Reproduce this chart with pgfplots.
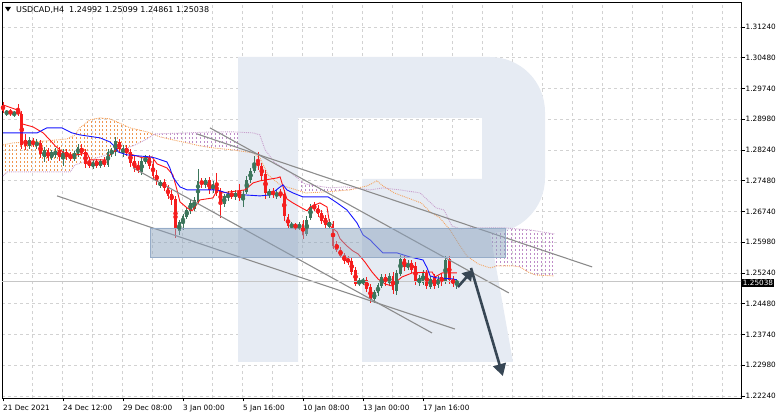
\documentclass[border=0pt]{standalone}
\usepackage{pgfplots}
\pgfplotsset{compat=1.18}
\usepackage{pgfplotstable}
\usepgfplotslibrary{fillbetween}
\usetikzlibrary{patterns,arrows.meta}
\usepackage{fontspec}
\setmainfont{DejaVu Sans}

\definecolor{bullc}{RGB}{60,118,92}
\definecolor{bearc}{RGB}{245,30,30}
\definecolor{tenkan}{RGB}{255,20,20}
\definecolor{kijun}{RGB}{20,20,255}
\definecolor{spanA}{RGB}{244,164,96}
\definecolor{spanB}{RGB}{200,160,205}
\definecolor{hatchA}{RGB}{240,150,80}
\definecolor{hatchB}{RGB}{190,140,200}
\definecolor{gridc}{RGB}{210,210,210}
\definecolor{trendc}{RGB}{140,140,140}
\definecolor{arrowc}{RGB}{55,70,84}
\definecolor{logoc}{RGB}{230,235,243}
\definecolor{zonec}{RGB}{140,163,190}
\definecolor{zoneb}{RGB}{150,172,200}

\pgfdeclarepatternformonly{vdash}{\pgfqpoint{-0.6pt}{-0.6pt}}{\pgfqpoint{4.35pt}{4.6pt}}{\pgfqpoint{3.75pt}{4pt}}{%
  \pgfsetlinewidth{1pt}%
  \pgfpathmoveto{\pgfqpoint{1.5pt}{0pt}}%
  \pgfpathlineto{\pgfqpoint{1.5pt}{2.2pt}}%
  \pgfusepath{stroke}}

\pgfplotstableread{
i o h l c
1 1.29120 1.29218 1.29072 1.29194
3 1.29096 1.29194 1.29047 1.29169
7 1.28340 1.28559 1.28266 1.28486
9 1.28340 1.28510 1.28266 1.28437
11 1.28071 1.28315 1.27949 1.28242
13 1.28047 1.28242 1.27998 1.28193
14 1.28120 1.28291 1.28047 1.28218
16 1.28047 1.28266 1.27852 1.28193
19 1.28022 1.28218 1.27974 1.28169
20 1.28120 1.28388 1.28071 1.28315
24 1.27827 1.27998 1.27778 1.27949
26 1.27852 1.28022 1.27803 1.27974
28 1.27876 1.28266 1.27827 1.28193
29 1.28144 1.28291 1.28071 1.28242
30 1.28193 1.28559 1.28096 1.28462
32 1.28144 1.28364 1.28071 1.28291
37 1.27705 1.28047 1.27632 1.27974
38 1.27949 1.28120 1.27900 1.28047
42 1.27364 1.27510 1.27315 1.27461
47 1.26266 1.26534 1.26168 1.26485
48 1.26436 1.26680 1.26290 1.26632
49 1.26607 1.26851 1.26558 1.26778
50 1.26754 1.27046 1.26680 1.26949
51 1.26802 1.27095 1.26754 1.27022
52 1.26973 1.27778 1.26924 1.27486
54 1.27388 1.27559 1.27315 1.27510
56 1.27266 1.27486 1.27193 1.27412
59 1.26924 1.27168 1.26851 1.27120
60 1.27071 1.27242 1.26998 1.27168
62 1.27095 1.27266 1.27022 1.27193
64 1.27071 1.27266 1.26851 1.27168
65 1.27217 1.27608 1.27168 1.27510
66 1.27510 1.27803 1.27437 1.27730
67 1.27730 1.28096 1.27681 1.27925
71 1.27144 1.27290 1.27071 1.27242
73 1.27120 1.27266 1.27046 1.27193
77 1.26363 1.26485 1.26314 1.26412
79 1.26339 1.26485 1.26290 1.26412
81 1.26192 1.26632 1.26144 1.26534
82 1.26583 1.26924 1.26534 1.26851
87 1.26363 1.26558 1.26314 1.26485
95 1.24972 1.25119 1.24924 1.25046
96 1.24997 1.25119 1.24948 1.25070
99 1.24606 1.24826 1.24509 1.24777
100 1.24753 1.24997 1.24680 1.24948
101 1.24924 1.25216 1.24875 1.25143
103 1.24997 1.25241 1.24924 1.25168
105 1.24802 1.25314 1.24704 1.25241
106 1.25216 1.25680 1.25168 1.25582
108 1.25363 1.25558 1.25314 1.25485
111 1.24997 1.25192 1.24924 1.25119
112 1.24997 1.25314 1.24948 1.25241
114 1.24899 1.25168 1.24850 1.25094
116 1.24948 1.25168 1.24875 1.25094
118 1.25021 1.25656 1.24972 1.25558
121 1.24992 1.25099 1.24861 1.25038
}\bulltab

\pgfplotstableread{
i o h l c
0 1.29340 1.29413 1.29145 1.29194
2 1.29194 1.29242 1.29072 1.29120
4 1.29194 1.29364 1.29072 1.29120
5 1.29120 1.29194 1.28266 1.28364
6 1.28486 1.28632 1.28242 1.28340
8 1.28462 1.28535 1.28315 1.28364
10 1.28413 1.28486 1.28047 1.28144
12 1.28242 1.28291 1.27974 1.28047
15 1.28242 1.28315 1.27974 1.28071
17 1.28193 1.28266 1.27998 1.28071
18 1.28120 1.28193 1.27974 1.28022
21 1.28291 1.28388 1.28096 1.28169
22 1.28193 1.28266 1.27803 1.27900
23 1.27974 1.28071 1.27803 1.27852
25 1.27974 1.28022 1.27803 1.27852
27 1.27998 1.28071 1.27827 1.27876
31 1.28437 1.28510 1.28169 1.28266
33 1.28291 1.28364 1.28096 1.28169
34 1.28193 1.28266 1.27827 1.27925
35 1.27974 1.28096 1.27705 1.27803
36 1.27852 1.27974 1.27681 1.27730
39 1.28047 1.28120 1.27778 1.27852
40 1.27900 1.27998 1.27534 1.27608
41 1.27632 1.27754 1.27388 1.27486
43 1.27461 1.27534 1.27242 1.27315
44 1.27339 1.27388 1.27046 1.27120
45 1.27168 1.27266 1.26900 1.27022
46 1.27046 1.27120 1.26095 1.26339
53 1.27486 1.27559 1.27315 1.27412
55 1.27510 1.27583 1.27168 1.27266
57 1.27412 1.27681 1.27120 1.27193
58 1.27242 1.27315 1.26583 1.26949
61 1.27193 1.27266 1.27046 1.27095
63 1.27217 1.27412 1.26998 1.27071
68 1.27949 1.28193 1.27754 1.27852
69 1.27852 1.27925 1.27510 1.27608
70 1.27656 1.27754 1.27046 1.27193
72 1.27242 1.27315 1.27071 1.27144
74 1.27193 1.27290 1.27071 1.27120
75 1.27168 1.27266 1.26510 1.26632
76 1.26607 1.26680 1.26314 1.26388
78 1.26412 1.26461 1.26290 1.26363
80 1.26436 1.26534 1.26070 1.26168
83 1.26876 1.26973 1.26754 1.26802
84 1.26827 1.26900 1.26607 1.26680
85 1.26705 1.26778 1.26436 1.26510
86 1.26583 1.26656 1.26339 1.26412
88 1.26436 1.26510 1.25826 1.25900
89 1.25948 1.26022 1.25753 1.25802
90 1.25802 1.25875 1.25607 1.25656
91 1.25680 1.25729 1.25460 1.25534
92 1.25582 1.25656 1.25436 1.25509
93 1.25534 1.25607 1.25192 1.25265
94 1.25314 1.25387 1.24924 1.24972
97 1.25070 1.25143 1.24777 1.24850
98 1.24899 1.24972 1.24509 1.24606
102 1.25143 1.25216 1.24924 1.25021
104 1.25168 1.25265 1.24728 1.24826
107 1.25582 1.25656 1.25290 1.25387
109 1.25485 1.25558 1.25241 1.25314
110 1.25412 1.25509 1.24948 1.25046
113 1.25241 1.25314 1.24850 1.24924
115 1.25143 1.25216 1.24850 1.24924
117 1.25143 1.25241 1.24924 1.25021
119 1.25582 1.25656 1.24972 1.25070
120 1.25094 1.25168 1.24899 1.24972
}\beartab

\begin{document}
\begin{tikzpicture}[x=1pt,y=1pt]
% watermark logo
\fill[logoc] (236,341) -- (488,341) arc[start angle=90,end angle=0,radius=55] -- (543,220)
  arc[start angle=0,end angle=-90,radius=55] -- (511,36) -- (360,36) -- (360,219) -- (480,219)
  -- (480,280) -- (296,280) -- (296,36) -- (236,36) -- cycle;
\begin{axis}[
  at={(0,0)}, anchor=south west, scale only axis,
  width=739pt, height=396pt,
  xmin=-0.267, xmax=196.8, ymin=1.22191, ymax=1.318495,
  axis line style={black, line width=0.8pt},
  scaled ticks=false,
  xtick={0,16,32,48,64,80,96,112},
  xticklabels={21 Dec 2021,24 Dec 12:00,29 Dec 08:00,3 Jan 00:00,5 Jan 16:00,10 Jan 08:00,13 Jan 00:00,17 Jan 16:00},
  ytick={1.2224,1.2299,1.2374,1.2449,1.2524,1.2599,1.2674,1.2749,1.2824,1.2899,1.2974,1.3049,1.3124},
  yticklabels={1.22240,1.22980,1.23740,1.24480,1.25240,1.25980,1.26740,1.27480,1.28240,1.28980,1.29740,1.30480,1.31240},
  minor xtick={7.73,15.73,23.73,31.73,39.73,47.73,55.73,63.73,71.73,79.73,87.73,95.73,103.73,111.73,119.73,127.73,135.73,143.73,151.73,159.73,167.73,175.73,183.73,191.73},
  ymajorgrids, xminorgrids, xmajorgrids=false,
  major grid style={gridc, dash pattern=on 3pt off 3pt, line width=0.7pt},
  minor grid style={gridc, dash pattern=on 3pt off 3pt, line width=0.7pt},
  minor tick length=0pt,
  xtick pos=left, ytick pos=right, yticklabel pos=right,
  tick align=outside, major tick length=3.5pt,
  tick style={black, line width=0.7pt},
  xticklabel style={anchor=north west, inner sep=0pt, yshift=-3pt, font=\fontsize{7.3}{9}\selectfont},
  yticklabel style={anchor=west, inner sep=0pt, xshift=1pt, font=\fontsize{7.3}{9}\selectfont},
  clip=true,
]
% Ichimoku cloud
\addplot[name path=sa, spanA, densely dotted, line width=0.9pt] coordinates {
(0,1.28364) (2.7,1.28413) (11.7,1.28462) (17.1,1.28510) (19.2,1.28608) (20.5,1.28779) (23.2,1.28974) (25.9,1.29023) (28.5,1.28998) (30.4,1.28925) (33.9,1.28779) (38.4,1.28681) (41.9,1.28559) (45.3,1.28486) (49.1,1.28413) (52.5,1.28340) (56,1.28291) (61.3,1.28242) (66.7,1.28169) (68.5,1.28047) (70.7,1.27632) (73.9,1.27388) (80.8,1.27193) (85.9,1.27217) (92.5,1.27266) (97.1,1.27364) (99.7,1.27486) (101.3,1.27364) (104.3,1.27193) (111.5,1.26949) (113.9,1.26729) (116.5,1.26583) (119.2,1.26290) (121.9,1.25900) (123.7,1.25656) (126.7,1.25460) (129.9,1.25363) (131.7,1.25412) (136,1.25412) (137.9,1.25387) (140,1.25265) (141.9,1.25192) (147,1.25168)};
\addplot[name path=sb, spanB, densely dotted, line width=0.9pt] coordinates {
(0,1.27608) (1.1,1.27705) (17.9,1.27705) (19.2,1.27876) (22.4,1.27974) (25.9,1.28071) (31.2,1.28242) (34.7,1.28340) (38.4,1.28510) (40.5,1.28632) (49.1,1.28657) (56,1.28681) (61.3,1.28681) (66.7,1.28657) (68.5,1.28608) (69.9,1.28242) (72.5,1.27925) (76.5,1.27705) (80.5,1.27412) (87.2,1.27315) (91.2,1.27339) (97.9,1.27266) (101.3,1.27315) (105.9,1.27266) (111.2,1.27193) (115.5,1.26827) (117.6,1.26778) (119.7,1.26388) (121.9,1.26314) (124.5,1.26339) (133.9,1.26339) (140.5,1.26290) (147,1.26192)};
\addplot[pattern=vdash, pattern color=hatchA, draw=none] fill between[of=sa and sb, soft clip={domain=-1:40}];
\addplot[pattern=vdash, pattern color=hatchA, draw=none] fill between[of=sa and sb, soft clip={domain=94:102.5}];
\addplot[pattern=vdash, pattern color=hatchB, draw=none] fill between[of=sa and sb, soft clip={domain=40:94}];
\addplot[pattern=vdash, pattern color=hatchB, draw=none] fill between[of=sa and sb, soft clip={domain=102.5:148}];
% candles: wicks
\addplot[only marks, mark=none, bullc, error bars/.cd, y dir=both, y explicit, error mark=none,
  error bar style={line width=1pt, bullc}]
  table[x=i, y expr={(\thisrow{h}+\thisrow{l})/2}, y error expr={(\thisrow{h}-\thisrow{l})/2}] {\bulltab};
\addplot[only marks, mark=none, bearc, error bars/.cd, y dir=both, y explicit, error mark=none,
  error bar style={line width=1pt, bearc}]
  table[x=i, y expr={(\thisrow{h}+\thisrow{l})/2}, y error expr={(\thisrow{h}-\thisrow{l})/2}] {\beartab};
% candles: bodies
\addplot[only marks, mark=none, bullc, error bars/.cd, y dir=both, y explicit, error mark=none,
  error bar style={line width=2.8pt, bullc}]
  table[x=i, y expr={(\thisrow{o}+\thisrow{c})/2}, y error expr={(\thisrow{c}-\thisrow{o})/2}] {\bulltab};
\addplot[only marks, mark=none, bearc, error bars/.cd, y dir=both, y explicit, error mark=none,
  error bar style={line width=2.8pt, bearc}]
  table[x=i, y expr={(\thisrow{o}+\thisrow{c})/2}, y error expr={(\thisrow{o}-\thisrow{c})/2}] {\beartab};
% Tenkan-sen
\addplot[tenkan, line width=0.9pt] coordinates {
(0,1.29340) (4.5,1.29194) (5.1,1.28876) (8,1.28803) (10.7,1.28657) (12.5,1.28486) (13.9,1.28340) (15.2,1.28242) (17.1,1.28120) (19.7,1.28120) (22.4,1.28169) (23.2,1.27998) (27.7,1.27998) (28.5,1.28120) (29.9,1.28218) (30.7,1.28291) (32,1.28242) (33.3,1.28169) (34.7,1.28120) (37.3,1.28047) (39.7,1.28071) (41.1,1.27900) (43.7,1.27803) (45.3,1.27632) (46.4,1.27266) (47.2,1.26973) (49.1,1.26827) (50.4,1.26754) (51.2,1.26851) (52.5,1.27022) (56,1.27071) (57.1,1.27266) (58.4,1.27193) (64.5,1.27266) (66.7,1.27437) (68.5,1.27486) (73.1,1.27559) (73.9,1.27583) (74.7,1.27339) (75.7,1.27046) (77.3,1.26949) (79.2,1.26851) (81.1,1.26754) (81.9,1.26851) (84.5,1.26949) (86.4,1.26851) (87.2,1.26388) (89.1,1.26241) (89.9,1.26070) (91.7,1.25900) (93.3,1.25778) (94.7,1.25704) (96.5,1.25509) (98.4,1.25265) (100,1.25094) (101.9,1.24972) (103.7,1.24924) (104.5,1.24997) (106.4,1.25143) (109.1,1.25241) (114.4,1.25265) (115.2,1.25143) (117.1,1.25241) (121,1.25241)};
% Kijun-sen
\addplot[kijun, line width=0.9pt] coordinates {
(0,1.28657) (9.1,1.28657) (11.7,1.28779) (15.7,1.28779) (18.4,1.28657) (20.5,1.28608) (25.9,1.28535) (28.5,1.28437) (29.9,1.28315) (30.7,1.28193) (33.1,1.28120) (39.2,1.28071) (40.5,1.28047) (43.7,1.27949) (44.5,1.27803) (45.3,1.27583) (46.4,1.27437) (47.2,1.27339) (49.1,1.27266) (57.1,1.27266) (61.3,1.27144) (64.5,1.27144) (68.5,1.27120) (71.2,1.27144) (73.9,1.27339) (74.7,1.27388) (75.7,1.27266) (77.3,1.27193) (80,1.27095) (86.7,1.27095) (89.1,1.26949) (91.7,1.26778) (94.4,1.26461) (96,1.26168) (97.9,1.26046) (99.7,1.25875) (101.3,1.25729) (105.1,1.25729) (108.5,1.25631) (112,1.25558) (113.1,1.25363) (113.9,1.25168) (115.7,1.25119) (120,1.25094) (121,1.25070)};
% trend lines
\addplot[trendc, line width=1.1pt] coordinates {(51.7,1.28632) (157.1,1.25387)};
\addplot[trendc, line width=1.1pt] coordinates {(55.2,1.28779) (134.9,1.24753)};
\addplot[trendc, line width=1.1pt] coordinates {(34.7,1.27803) (114.4,1.23777)};
\addplot[trendc, line width=1.1pt] coordinates {(14.4,1.27120) (120.5,1.23874)};
% zone rectangle
\addplot[draw=zoneb, line width=0.6pt, fill=zonec, fill opacity=0.5] coordinates {(39.2,1.26339) (133.9,1.26339) (133.9,1.25631) (39.2,1.25631) (39.2,1.26339)};
% current price line
\addplot[gray!45, line width=0.7pt] coordinates {(-1,1.25038) (197,1.25038)};
% arrows
\addplot[arrowc, line width=2.6pt, -{Triangle[width=12pt,length=10pt]}] coordinates {(121.3,1.24899) (125.3,1.25314)};
\addplot[arrowc, line width=2.6pt, -{Triangle[width=13pt,length=12pt]}] coordinates {(124.8,1.25363) (133.3,1.22728)};
\end{axis}
% current price label
\node[fill=black, text=white, anchor=west, inner xsep=1.2pt, inner ysep=1pt, font=\fontsize{7.3}{9}\selectfont] at (739.5,115) {1.25038};
% header
\fill[black] (3,391) -- (9,391) -- (6,386.5) -- cycle;
\node[anchor=base west, inner sep=0pt, font=\fontsize{8}{10}\selectfont] at (14,385) {USDCAD,H4\ \ 1.24992 1.25099 1.24861 1.25038};
\pgfresetboundingbox
\path[use as bounding box] (-2,-21) rectangle (780,398);
\end{tikzpicture}
\end{document}
